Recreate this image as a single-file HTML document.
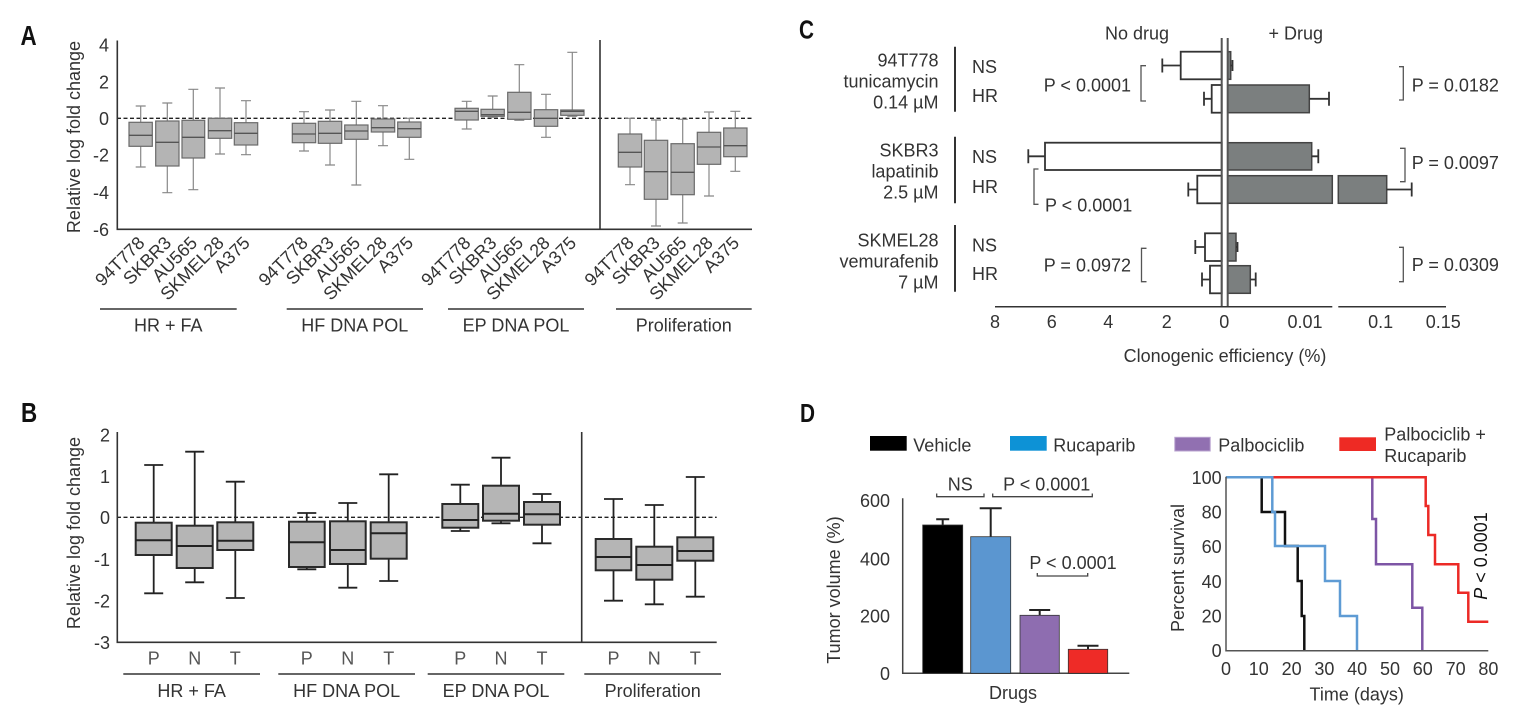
<!DOCTYPE html>
<html>
<head>
<meta charset="utf-8">
<style>
  html,body{margin:0;padding:0;background:#fff;}
  svg{display:block;}
  text{font-family:"Liberation Sans", Arial, sans-serif;fill:#333;}
</style>
</head>
<body>
<svg width="1519" height="721" viewBox="0 0 1519 721" xmlns="http://www.w3.org/2000/svg">
<rect width="1519" height="721" fill="#fff"/>

<!-- ===================== PANEL A ===================== -->
<g transform="translate(20.5,45) scale(0.8,1)"><text x="0" y="0" font-size="28" font-weight="bold" fill="#111" style="fill:#111">A</text></g>

<!-- y ticks -->
<g font-size="18" text-anchor="end">
  <text x="109" y="51.5">4</text>
  <text x="109" y="88.5">2</text>
  <text x="109" y="125">0</text>
  <text x="109" y="161.5">-2</text>
  <text x="109" y="199">-4</text>
  <text x="109" y="236">-6</text>
</g>
<text transform="translate(80,137) rotate(-90)" font-size="18" text-anchor="middle">Relative log fold change</text>

<!-- dashed zero line -->
<line x1="117" y1="118.3" x2="752" y2="118.3" stroke="#222" stroke-width="1.3" stroke-dasharray="4,2.5"/>

<!-- boxes A -->
<g stroke="#888" stroke-width="1.2" fill="none">
  <!-- whiskers: cx, wt->q3, q1->wb ; caps -->
  <path d="M140.7,106V122.3M140.7,146.3V167M135.7,106H145.7M135.7,167H145.7"/>
  <path d="M167.3,103V121M167.3,166V192.7M162.3,103H172.3M162.3,192.7H172.3"/>
  <path d="M193.3,89.3V120.3M193.3,158V189.7M188.3,89.3H198.3M188.3,189.7H198.3"/>
  <path d="M220,88V118.3M220,138.3V154M215,88H225M215,154H225"/>
  <path d="M246,100.7V122.7M246,145V154.7M241,100.7H251M241,154.7H251"/>
  <path d="M304,111.7V123.3M304,142.7V151M299,111.7H309M299,151H309"/>
  <path d="M330,110V121.3M330,143.3V165M325,110H335M325,165H335"/>
  <path d="M356.3,101.3V125M356.3,139.3V185M351.3,101.3H361.3M351.3,185H361.3"/>
  <path d="M383,105.7V119M383,132V145.7M378,105.7H388M378,145.7H388"/>
  <path d="M409.3,118.3V122M409.3,137.3V159.3M404.3,118.3H414.3M404.3,159.3H414.3"/>
  <path d="M466.7,101.3V108.3M466.7,120V129M461.7,101.3H471.7M461.7,129H471.7"/>
  <path d="M492.7,96V109.3M492.7,116.3V117.3M487.7,96H497.7M487.7,117.3H497.7"/>
  <path d="M519.3,64.7V92.3M519.3,119.3V120.3M514.3,64.7H524.3M514.3,120.3H524.3"/>
  <path d="M546,94.3V109.7M546,126.3V137.3M541,94.3H551M541,137.3H551"/>
  <path d="M572.3,52.3V110M572.3,115.3V116.3M567.3,52.3H577.3M567.3,116.3H577.3"/>
  <path d="M630,118.3V134M630,167V184.7M625,118.3H635M625,184.7H635"/>
  <path d="M656,120V140.3M656,199.3V226M651,120H661M651,226H661"/>
  <path d="M682.7,119.3V143.7M682.7,194.7V223M677.7,119.3H687.7M677.7,223H687.7"/>
  <path d="M709,112V132.3M709,164.3V196M704,112H714M704,196H714"/>
  <path d="M735.3,111.3V128M735.3,156.7V171.3M730.3,111.3H740.3M730.3,171.3H740.3"/>
</g>
<g fill="#b4b4b4" stroke="#6a6a6a" stroke-width="1.2">
  <rect x="129" y="122.3" width="23.3" height="24"/>
  <rect x="155.7" y="121" width="23.3" height="45"/>
  <rect x="182" y="120.3" width="22.7" height="37.7"/>
  <rect x="208.3" y="118.3" width="23.4" height="20"/>
  <rect x="234.3" y="122.7" width="23.4" height="22.3"/>
  <rect x="292.3" y="123.3" width="23.4" height="19.4"/>
  <rect x="318.3" y="121.3" width="23.4" height="22"/>
  <rect x="344.7" y="125" width="23.3" height="14.3"/>
  <rect x="371.3" y="119" width="23.4" height="13"/>
  <rect x="397.7" y="122" width="23.3" height="15.3"/>
  <rect x="455" y="108.3" width="23.3" height="11.7"/>
  <rect x="481" y="109.3" width="23.3" height="7"/>
  <rect x="507.7" y="92.3" width="23.3" height="27"/>
  <rect x="534.3" y="109.7" width="23.4" height="16.6"/>
  <rect x="560.7" y="110" width="23.3" height="5.3"/>
  <rect x="618.3" y="134" width="23.4" height="33"/>
  <rect x="644.3" y="140.3" width="23.4" height="59"/>
  <rect x="671" y="143.7" width="23.3" height="51"/>
  <rect x="697.3" y="132.3" width="23.4" height="32"/>
  <rect x="723.7" y="128" width="23.3" height="28.7"/>
</g>
<g stroke="#555" stroke-width="1.3">
  <path d="M129,135.3H152.3M155.7,142.3H179M182,137.3H204.7M208.3,130.7H231.7M234.3,133.3H257.7"/>
  <path d="M292.3,134H315.7M318.3,133.3H341.7M344.7,131H368M371.3,127.7H394.7M397.7,128.7H421"/>
  <path d="M455,111.3H478.3M481,114.7H504.3M507.7,112.3H531M534.3,118.3H557.7M560.7,111.3H584"/>
  <path d="M618.3,152.3H641.7M644.3,171.7H667.7M671,172.3H694.3M697.3,147H720.7M723.7,145.7H747"/>
</g>

<!-- axes A -->
<g stroke="#333" stroke-width="1.6" fill="none">
  <path d="M117.3,40.5V229.3H752"/>
  <path d="M600,40V229.3"/>
</g>

<!-- rotated labels A -->
<g font-size="18" text-anchor="end">
  <text transform="translate(145.7,244) rotate(-45)">94T778</text>
  <text transform="translate(172.3,244) rotate(-45)">SKBR3</text>
  <text transform="translate(198.3,244) rotate(-45)">AU565</text>
  <text transform="translate(225,244) rotate(-45)">SKMEL28</text>
  <text transform="translate(251,244) rotate(-45)">A375</text>
  <text transform="translate(309,244) rotate(-45)">94T778</text>
  <text transform="translate(335,244) rotate(-45)">SKBR3</text>
  <text transform="translate(361.3,244) rotate(-45)">AU565</text>
  <text transform="translate(388,244) rotate(-45)">SKMEL28</text>
  <text transform="translate(414.3,244) rotate(-45)">A375</text>
  <text transform="translate(471.7,244) rotate(-45)">94T778</text>
  <text transform="translate(497.7,244) rotate(-45)">SKBR3</text>
  <text transform="translate(524.3,244) rotate(-45)">AU565</text>
  <text transform="translate(551,244) rotate(-45)">SKMEL28</text>
  <text transform="translate(577.3,244) rotate(-45)">A375</text>
  <text transform="translate(635,244) rotate(-45)">94T778</text>
  <text transform="translate(661,244) rotate(-45)">SKBR3</text>
  <text transform="translate(687.7,244) rotate(-45)">AU565</text>
  <text transform="translate(714,244) rotate(-45)">SKMEL28</text>
  <text transform="translate(740.3,244) rotate(-45)">A375</text>
</g>

<!-- group lines A -->
<g stroke="#333" stroke-width="1.5">
  <path d="M100,309H236.7M286.7,309H423M448,309H584M616,309H751.7"/>
</g>
<g font-size="18" text-anchor="middle">
  <text x="168.3" y="331.5">HR + FA</text>
  <text x="354.8" y="331.5">HF DNA POL</text>
  <text x="516" y="331.5">EP DNA POL</text>
  <text x="683.8" y="331.5">Proliferation</text>
</g>

<!-- ===================== PANEL B ===================== -->
<g transform="translate(21,422) scale(0.8,1)"><text x="0" y="0" font-size="28" font-weight="bold" style="fill:#111">B</text></g>

<g font-size="18" text-anchor="end">
  <text x="110" y="441.5">2</text>
  <text x="110" y="483">1</text>
  <text x="110" y="524">0</text>
  <text x="110" y="566">-1</text>
  <text x="110" y="607.5">-2</text>
  <text x="110" y="649">-3</text>
</g>
<text transform="translate(80,533) rotate(-90)" font-size="18" text-anchor="middle">Relative log fold change</text>

<line x1="117" y1="517.3" x2="716.7" y2="517.3" stroke="#222" stroke-width="1.3" stroke-dasharray="4,2.5"/>

<g stroke="#222" stroke-width="1.8" fill="none">
  <path d="M153.7,465V522.7M153.7,555V593.3M144.2,465H163.2M144.2,593.3H163.2"/>
  <path d="M194.7,451.7V525.7M194.7,568V582.3M185.2,451.7H204.2M185.2,582.3H204.2"/>
  <path d="M235.3,481.7V522.3M235.3,550V598M225.8,481.7H244.8M225.8,598H244.8"/>
  <path d="M306.8,513V521.7M306.8,567V569.3M297.3,513H316.3M297.3,569.3H316.3"/>
  <path d="M347.8,503V521.3M347.8,564V587.7M338.3,503H357.3M338.3,587.7H357.3"/>
  <path d="M388.7,474.3V522.3M388.7,558.7V581M379.2,474.3H398.2M379.2,581H398.2"/>
  <path d="M460.3,484.7V504M460.3,527.7V531M450.8,484.7H469.8M450.8,531H469.8"/>
  <path d="M501,457.7V485.7M501,520.7V523.3M491.5,457.7H510.5M491.5,523.3H510.5"/>
  <path d="M542,494V502M542,524.7V543.3M532.5,494H551.5M532.5,543.3H551.5"/>
  <path d="M613.5,499V539M613.5,570.3V600.7M604,499H623M604,600.7H623"/>
  <path d="M654.3,505V546.7M654.3,579.7V604.3M644.8,505H663.8M644.8,604.3H663.8"/>
  <path d="M695.3,477V537.3M695.3,560.7V596.7M685.8,477H704.8M685.8,596.7H704.8"/>
</g>
<g fill="#b5b5b5" stroke="#2a2a2a" stroke-width="2">
  <rect x="135.7" y="522.7" width="36" height="32.3"/>
  <rect x="176.7" y="525.7" width="36" height="42.3"/>
  <rect x="217.3" y="522.3" width="36" height="27.7"/>
  <rect x="289" y="521.7" width="35.7" height="45.3"/>
  <rect x="330" y="521.3" width="35.7" height="42.7"/>
  <rect x="370.7" y="522.3" width="36" height="36.4"/>
  <rect x="442.3" y="504" width="36" height="23.7"/>
  <rect x="483" y="485.7" width="36" height="35"/>
  <rect x="524" y="502" width="36" height="22.7"/>
  <rect x="595.7" y="539" width="35.6" height="31.3"/>
  <rect x="636.3" y="546.7" width="36" height="33"/>
  <rect x="677.3" y="537.3" width="36" height="23.4"/>
</g>
<g stroke="#222" stroke-width="2">
  <path d="M135.7,540.3H171.7M176.7,546H212.7M217.3,540.7H253.3"/>
  <path d="M289,542.3H324.7M330,550H365.7M370.7,533.3H406.7"/>
  <path d="M442.3,520H478.3M483,513.7H519M524,514.3H560"/>
  <path d="M595.7,557H631.3M636.3,565H672.3M677.3,551H713.3"/>
</g>

<g stroke="#333" stroke-width="1.6" fill="none">
  <path d="M117.3,432V642.3H716.7"/>
  <path d="M581.7,432V642.3"/>
</g>

<g font-size="18" text-anchor="middle" style="fill:#555">
  <text x="153.7" y="664.5" style="fill:#555">P</text><text x="194.7" y="664.5" style="fill:#555">N</text><text x="235.3" y="664.5" style="fill:#555">T</text>
  <text x="306.8" y="664.5" style="fill:#555">P</text><text x="347.8" y="664.5" style="fill:#555">N</text><text x="388.7" y="664.5" style="fill:#555">T</text>
  <text x="460.3" y="664.5" style="fill:#555">P</text><text x="501" y="664.5" style="fill:#555">N</text><text x="542" y="664.5" style="fill:#555">T</text>
  <text x="613.5" y="664.5" style="fill:#555">P</text><text x="654.3" y="664.5" style="fill:#555">N</text><text x="695.3" y="664.5" style="fill:#555">T</text>
</g>
<g stroke="#333" stroke-width="1.5">
  <path d="M123.3,674H260M278.3,674H415M427.7,674H564.3M584.3,674H721"/>
</g>
<g font-size="18" text-anchor="middle">
  <text x="191.7" y="697">HR + FA</text>
  <text x="346.7" y="697">HF DNA POL</text>
  <text x="496" y="697">EP DNA POL</text>
  <text x="652.7" y="697">Proliferation</text>
</g>

<!-- ===================== PANEL C ===================== -->
<g transform="translate(799,38.5) scale(0.8,1)"><text x="0" y="0" font-size="26" font-weight="bold" style="fill:#111">C</text></g>

<g font-size="18" text-anchor="end">
  <text x="938.5" y="66.5">94T778</text>
  <text x="938.5" y="87.5">tunicamycin</text>
  <text x="938.5" y="108.5">0.14 µM</text>
  <text x="938.5" y="156.5">SKBR3</text>
  <text x="938.5" y="177.5">lapatinib</text>
  <text x="938.5" y="198.5">2.5 µM</text>
  <text x="938.5" y="246.5">SKMEL28</text>
  <text x="938.5" y="267.5">vemurafenib</text>
  <text x="938.5" y="288.5">7 µM</text>
</g>
<g stroke="#333" stroke-width="2">
  <path d="M955,46.7V111.7M955,136.7V203.3M955,225V291.7"/>
</g>
<g font-size="18">
  <text x="972" y="73">NS</text>
  <text x="972" y="102">HR</text>
  <text x="972" y="163">NS</text>
  <text x="972" y="193">HR</text>
  <text x="972" y="251.5">NS</text>
  <text x="972" y="280">HR</text>
</g>

<!-- no-drug bars -->
<g stroke="#333" stroke-width="1.8" fill="#fff">
  <rect x="1180.7" y="51.7" width="41" height="27.6"/>
  <rect x="1211.7" y="85" width="10" height="27.7"/>
  <rect x="1045" y="142.7" width="176.7" height="27.3"/>
  <rect x="1197.3" y="175.7" width="24.4" height="27.6"/>
  <rect x="1205" y="233.3" width="16.7" height="27.7"/>
  <rect x="1210" y="265.7" width="11.7" height="27.6"/>
</g>
<g stroke="#333" stroke-width="1.8" fill="none">
  <path d="M1180.7,65.5H1162.3M1162.3,58.5V72.5"/>
  <path d="M1211.7,98.8H1204M1204,91.8V105.8"/>
  <path d="M1045,156.3H1028.3M1028.3,149.3V163.3"/>
  <path d="M1197.3,189.5H1188.3M1188.3,182.5V196.5"/>
  <path d="M1205,247H1195.3M1195.3,240V254"/>
  <path d="M1210,279.5H1202M1202,272.5V286.5"/>
</g>

<!-- drug bars -->
<g stroke="#444" stroke-width="1.5" fill="#7b7f7f">
  <rect x="1227.7" y="51.7" width="3" height="27.6"/>
  <rect x="1227.7" y="85" width="81.6" height="27.7"/>
  <rect x="1227.7" y="142.7" width="84" height="27.3"/>
  <rect x="1227.7" y="175.7" width="104.6" height="27.6"/>
  <rect x="1338.3" y="175.7" width="48.4" height="27.6"/>
  <rect x="1227.7" y="233.3" width="8.3" height="27.7"/>
  <rect x="1227.7" y="265.7" width="22.6" height="27.6"/>
</g>
<g stroke="#333" stroke-width="1.8" fill="none">
  <path d="M1230.7,65.5H1232.5M1232.5,60V71"/>
  <path d="M1309.3,98.8H1329M1329,91.8V105.8"/>
  <path d="M1311.7,156.3H1318.3M1318.3,149.3V163.3"/>
  <path d="M1386.7,189.5H1411.7M1411.7,182.5V196.5"/>
  <path d="M1236,247H1237.5M1237.5,242V252"/>
  <path d="M1250.3,279.5H1255.7M1255.7,272.5V286.5"/>
</g>

<!-- zero lines -->
<g stroke="#555" stroke-width="2">
  <path d="M1221.7,38V306.7M1227.7,38V306.7"/>
</g>
<!-- x axis C -->
<g stroke="#333" stroke-width="1.5">
  <path d="M995,306.7H1332.3M1338.3,306.7H1446"/>
</g>
<g font-size="18" text-anchor="middle">
  <text x="995" y="328">8</text>
  <text x="1051.7" y="328">6</text>
  <text x="1108.3" y="328">4</text>
  <text x="1166.7" y="328">2</text>
  <text x="1224.3" y="328">0</text>
  <text x="1305" y="328">0.01</text>
  <text x="1380.7" y="328">0.1</text>
  <text x="1443.3" y="328">0.15</text>
  <text x="1225" y="362">Clonogenic efficiency (%)</text>
  <text x="1137" y="39.5">No drug</text>
  <text x="1295.8" y="39.5">+ Drug</text>
</g>

<!-- brackets -->
<g stroke="#555" stroke-width="1.3" fill="none">
  <path d="M1146,65.7H1141V101H1146"/>
  <path d="M1038.5,169H1034V204.3H1038.5"/>
  <path d="M1146.5,248.3H1141.5V281.7H1146.5"/>
  <path d="M1399,66.7H1403.3V100H1399"/>
  <path d="M1400,148.3H1405V181.7H1400"/>
  <path d="M1399,247.3H1403.3V281.7H1399"/>
</g>
<g font-size="18">
  <text x="1131" y="91.5" text-anchor="end">P &lt; 0.0001</text>
  <text x="1045" y="211.5">P &lt; 0.0001</text>
  <text x="1131" y="271.5" text-anchor="end">P = 0.0972</text>
  <text x="1411.7" y="91.5">P = 0.0182</text>
  <text x="1411.7" y="169">P = 0.0097</text>
  <text x="1411.7" y="270.8">P = 0.0309</text>
</g>

<!-- ===================== PANEL D ===================== -->
<g transform="translate(800,422) scale(0.8,1)"><text x="0" y="0" font-size="26" font-weight="bold" style="fill:#111">D</text></g>

<!-- legend -->
<rect x="870" y="436" width="36.7" height="14.7" fill="#000"/>
<text x="913.3" y="451.5" font-size="18">Vehicle</text>
<rect x="1010" y="436" width="36.7" height="14.7" fill="#0d92d6"/>
<text x="1053.3" y="451.5" font-size="18">Rucaparib</text>
<rect x="1174.8" y="437.3" width="35.4" height="13.7" fill="#9170b1" stroke="#b9a3cf" stroke-width="1"/>
<text x="1218.3" y="451.5" font-size="18">Palbociclib</text>
<rect x="1339.3" y="437.3" width="36.7" height="13.7" fill="#ee2a24"/>
<text x="1384.3" y="440.5" font-size="18">Palbociclib +</text>
<text x="1384.3" y="462" font-size="18">Rucaparib</text>

<!-- bar chart axes -->
<g stroke="#444" stroke-width="1.5" fill="none">
  <path d="M902.7,498.3V673.3H1129.3"/>
</g>
<g font-size="18" text-anchor="end">
  <text x="890" y="507">600</text>
  <text x="890" y="565.5">400</text>
  <text x="890" y="622.5">200</text>
  <text x="890" y="680">0</text>
</g>
<text transform="translate(840,590) rotate(-90)" font-size="18" text-anchor="middle">Tumor volume (%)</text>
<text x="1013" y="699" font-size="18" text-anchor="middle">Drugs</text>

<!-- error bars -->
<g stroke="#222" stroke-width="2" fill="none">
  <path d="M942.7,525V519.3M936.2,519.3H949.2"/>
  <path d="M990.7,536.7V508.3M979.7,508.3H1001.7"/>
  <path d="M1039.7,615.3V610M1029.2,610H1050.2"/>
  <path d="M1088,649.3V645.7M1077.5,645.7H1098.5"/>
</g>
<g stroke="#333" stroke-width="0.8">
  <rect x="922.7" y="525" width="40" height="148.3" fill="#000"/>
  <rect x="970.7" y="536.7" width="40" height="136.6" fill="#5b96d0"/>
  <rect x="1020" y="615.3" width="39.3" height="58" fill="#8e6db0"/>
  <rect x="1068.3" y="649.3" width="39.4" height="24" fill="#ee2b27"/>
</g>

<!-- significance -->
<g stroke="#444" stroke-width="1.3" fill="none">
  <path d="M936.7,493.5V496.7H984V493.5"/>
  <path d="M992.7,493.5V496.7H1092.3V493.5"/>
  <path d="M1037.3,573V576H1087.7V573"/>
</g>
<g font-size="18" text-anchor="middle">
  <text x="960.3" y="490.5">NS</text>
  <text x="1046.7" y="490.5">P &lt; 0.0001</text>
  <text x="1073" y="569">P &lt; 0.0001</text>
</g>

<!-- survival plot -->
<g font-size="18" text-anchor="end">
  <text x="1221.7" y="484">100</text>
  <text x="1221.7" y="518.5">80</text>
  <text x="1221.7" y="553">60</text>
  <text x="1221.7" y="587.8">40</text>
  <text x="1221.7" y="622.5">20</text>
  <text x="1221.7" y="657.2">0</text>
</g>
<g font-size="18" text-anchor="middle">
  <text x="1226" y="675">0</text>
  <text x="1258.8" y="675">10</text>
  <text x="1291.6" y="675">20</text>
  <text x="1324.4" y="675">30</text>
  <text x="1357.2" y="675">40</text>
  <text x="1390" y="675">50</text>
  <text x="1422.8" y="675">60</text>
  <text x="1455.6" y="675">70</text>
  <text x="1488.4" y="675">80</text>
  <text x="1356.7" y="700.5">Time (days)</text>
</g>
<text transform="translate(1184,568) rotate(-90)" font-size="18" text-anchor="middle">Percent survival</text>
<text transform="translate(1487,556) rotate(-90)" font-size="18" text-anchor="middle" style="fill:#111"><tspan font-style="italic">P</tspan> &lt; 0.0001</text>

<g fill="none" stroke-width="2.5" stroke-linejoin="miter">
  <polyline stroke="#7d55a5" points="1226,477.3 1372.3,477.3 1372.3,519 1376,519 1376,564.3 1412.3,564.3 1412.3,607.7 1422.3,607.7 1422.3,650.7"/>
  <polyline stroke="#ec2a26" points="1226,477.3 1425.7,477.3 1425.7,506 1428.3,506 1428.3,535 1435,535 1435,564.3 1458.3,564.3 1458.3,592.7 1468.3,592.7 1468.3,621.7 1488.3,621.7"/>
  <polyline stroke="#111" points="1226,477.3 1261.7,477.3 1261.7,512 1285,512 1285,546 1297.7,546 1297.7,581 1301.7,581 1301.7,616 1304.3,616 1304.3,650.7"/>
  <polyline stroke="#5e9bd4" points="1226,477.3 1272.3,477.3 1272.3,512 1275,512 1275,546 1325,546 1325,581 1340,581 1340,616 1357,616 1357,650.7"/>
</g>
<g stroke="#555" stroke-width="1.5" fill="none">
  <path d="M1226,476.7V650.7H1488.3"/>
</g>

</svg>
</body>
</html>
